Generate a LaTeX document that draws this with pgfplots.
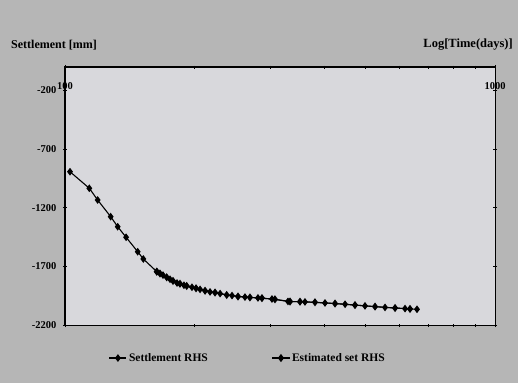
\documentclass[border=0pt]{standalone}
\usepackage{pgfplots}
\pgfplotsset{compat=1.18}
\usepackage{fontspec}
\setmainfont{Liberation Serif}
\definecolor{outerbg}{RGB}{182,182,182}
\definecolor{plotbg}{RGB}{216,216,220}
\begin{document}
\begin{tikzpicture}[x=1pt,y=1pt]
\fill[outerbg] (0,0) rectangle (518,383);
\useasboundingbox (0,0) rectangle (518,383);
\node[anchor=west,font=\fontsize{12}{14}\selectfont\bfseries,inner sep=0pt] at (11,338) {Settlement [mm]};
\node[anchor=east,font=\fontsize{12.5}{14}\selectfont\bfseries,inner sep=0pt] at (513,338) {Log[Time(days)]};
\begin{axis}[
  at={(65pt,58pt)}, anchor=south west,
  scale only axis, width=430pt, height=258pt,
  xmode=log, xmin=100, xmax=1000,
  ymin=-2200, ymax=0,
  axis background/.style={fill=plotbg},
  axis line style={black, line width=0.6pt},
  xtick={100,1000}, xticklabels={100,1000},
  xticklabel pos=upper,
  x tick label style={anchor=north, yshift=-14pt},
  ytick={-2200,-1700,-1200,-700,-200},
  yticklabels={-2200,-1700,-1200,-700,-200},
  ticklabel style={font=\fontsize{10.5}{12}\selectfont\bfseries},
  y tick label style={xshift=-3pt},
  tick align=center, major tick length=4pt, minor tick length=3pt,
  tick style={black, line width=0.6pt},
  legend columns=2,
  legend style={at={(0.425,-0.128)}, anchor=center, draw=none, fill=none,
    font=\fontsize{11.5}{13}\selectfont\bfseries,
    /tikz/every even column/.append style={column sep=62pt}},
  legend cell align=left,
  clip=false,
]
\addplot[black, line width=1.1pt, mark=diamond*, mark size=3pt] coordinates {
(102.7,-893) (113.9,-1034) (119.1,-1134) (127.7,-1276) (132.6,-1362)
(138.7,-1452) (147.6,-1575) (152.1,-1637) (163.5,-1745) (169.0,-1775)
(175.5,-1810) (182.2,-1842) (189.1,-1861) (197.4,-1878) (206.1,-1896)
(217.4,-1918) (229.4,-1932) (244.6,-1949) (262.1,-1962) (281.0,-1969)
(302.9,-1978) (330.0,-1999) (361.5,-2003) (402.4,-2012) (448.0,-2023)
(498.5,-2037) (555.0,-2050) (617.6,-2060) (658.6,-2066)
};
\addlegendentry{Settlement RHS}
\addplot[black, line width=1.1pt, mark=diamond*, mark size=3.2pt] coordinates {
(163.5,-1745) (166.3,-1761) (172.4,-1793) (178.3,-1824) (185.1,-1848)
(191.9,-1867) (201.7,-1887) (211.7,-1908) (223.3,-1923) (237.7,-1944)
(252.5,-1957) (269.2,-1965) (287.1,-1971) (307.8,-1981) (333.7,-2000)
(352.0,-2001) (381.4,-2006) (424.6,-2017) (472.5,-2030) (526.0,-2043)
(585.5,-2055) (634.3,-2063)
};
\addlegendentry{Estimated set RHS}
\draw[black, line width=2.2pt] (rel axis cs:0,0) -- (rel axis cs:0,1) -- (rel axis cs:1,1);
\end{axis}
\end{tikzpicture}
\end{document}
